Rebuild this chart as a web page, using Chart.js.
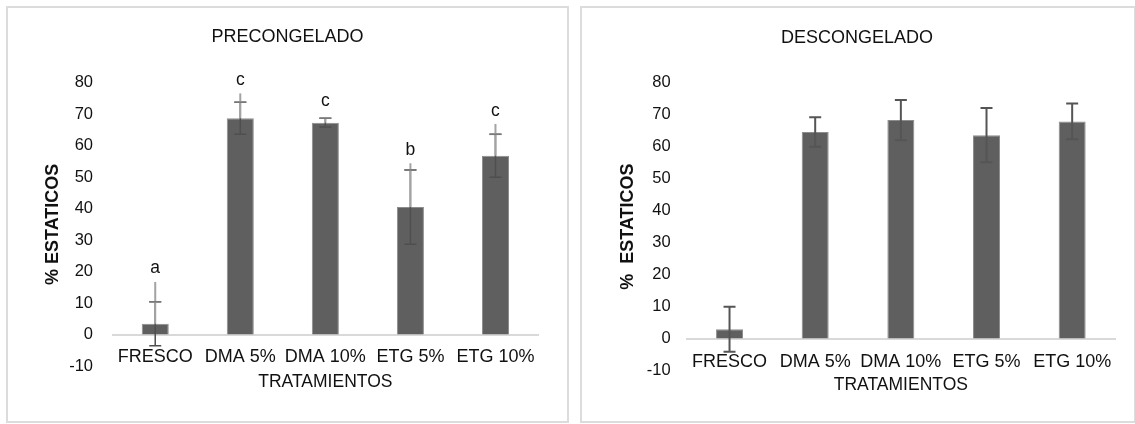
<!DOCTYPE html>
<html>
<head>
<meta charset="utf-8">
<script src="https://cdn.jsdelivr.net/npm/chart.js@4/dist/chart.umd.min.js"></script>
<style>
  html, body { margin: 0; padding: 0; background: #fff; }
  body { position: relative; width: 1135px; height: 424px; overflow: hidden; }
  .panel { position: absolute; border: 2px solid #dcdcdc; box-sizing: border-box; }
  canvas { position: absolute; }
</style>
</head>
<body>
<div class="panel" style="left:6px;top:6px;width:563px;height:417px"></div>
<div class="panel" style="left:580px;top:6px;width:556px;height:417px"></div>
<canvas id="pre" width="561" height="414" style="left:7px;top:7px;width:561px;height:414px"></canvas>
<canvas id="post" width="550" height="414" style="left:582px;top:7px;width:550px;height:414px"></canvas>
<script>
// Treatments on the x axis
const categories = ['FRESCO', 'DMA 5%', 'DMA 10%', 'ETG 5%', 'ETG 10%'];
const yTicks = [-10, 0, 10, 20, 30, 40, 50, 60, 70, 80];

// PRECONGELADO: mean % static, standard deviation, upper whisker, significance letters
const preMeans   = [3.4, 68.7, 67.3, 40.5, 56.8];
const preSD      = [7.0, 5.1, 1.4, 11.8, 6.8];
const preUpper   = [16.7, 76.6, 68.7, 54.4, 66.9];
const preLetters = ['a', 'c', 'c', 'b', 'c'];
const preLetterAt = [19.5, 79.4, 72.5, 57.1, 69.4];

// DESCONGELADO: mean % static and standard deviation
const postMeans = [2.9, 64.6, 68.3, 63.6, 67.9];
const postSD    = [7.0, 4.6, 6.3, 8.5, 5.6];

const FONT = '"Liberation Sans", Arial, sans-serif';
const INK = '#111111';

// Error bars and letters drawn over the bars through the chart's own scales
const errorBars = {
  id: 'errorBars',
  afterDatasetsDraw(chart, args, o) {
    const ctx = chart.ctx;
    const y = chart.scales.y;
    const meta = chart.getDatasetMeta(0);
    ctx.save();
    meta.data.forEach((bar, i) => {
      const x = bar.x;
      const m = o.means[i], s = o.sd[i];
      const hi = y.getPixelForValue(m + s);
      const lo = y.getPixelForValue(m - s);
      const cw = 6;
      ctx.strokeStyle = o.dark;
      ctx.lineWidth = o.darkWidth;
      ctx.beginPath();
      ctx.moveTo(x, lo); ctx.lineTo(x, hi);
      ctx.moveTo(x - cw, hi); ctx.lineTo(x + cw, hi);
      ctx.moveTo(x - cw, lo); ctx.lineTo(x + cw, lo);
      ctx.stroke();
      if (o.upper) {
        ctx.strokeStyle = o.light;
        ctx.lineWidth = 2;
        ctx.beginPath();
        ctx.moveTo(x, y.getPixelForValue(m));
        ctx.lineTo(x, y.getPixelForValue(o.upper[i]));
        ctx.stroke();
        // horizontal stroke of the "+" stays visible over the light line
        ctx.strokeStyle = o.capColor;
        ctx.lineWidth = 1.5;
        ctx.beginPath();
        ctx.moveTo(x - cw, hi); ctx.lineTo(x + cw, hi);
        ctx.stroke();
      }
      if (o.letters) {
        ctx.fillStyle = INK;
        ctx.font = '17.5px ' + FONT;
        ctx.textAlign = 'center';
        ctx.textBaseline = 'alphabetic';
        ctx.fillText(o.letters[i], x, y.getPixelForValue(o.letterAt[i]));
      }
    });
    ctx.restore();
  }
};

function makeChart(id, g) {
  return new Chart(document.getElementById(id), {
    type: 'bar',
    data: {
      labels: categories,
      datasets: [{
        data: g.means,
        backgroundColor: '#5f5f5f',
        borderColor: '#8c8c8c',
        borderWidth: 1,
        barPercentage: g.barPct,
        categoryPercentage: 1
      }]
    },
    options: {
      responsive: false,
      animation: false,
      devicePixelRatio: 1,
      layout: { padding: { left: 0, right: 0, top: 0, bottom: g.padBottom } },
      plugins: {
        legend: { display: false },
        tooltip: { enabled: false },
        title: {
          display: true,
          text: g.title,
          color: INK,
          font: { family: FONT, size: 18, weight: 'normal', lineHeight: 1.2 },
          padding: { top: g.titleTop, bottom: g.titleBottom }
        },
        errorBars: g.err
      },
      scales: {
        x: {
          type: 'category',
          position: { y: 0 },
          grid: { display: false, drawTicks: false },
          border: { display: true, color: '#d9d9d9', width: 2 },
          ticks: { color: INK, font: { family: FONT, size: 18 }, padding: g.xTickPad, maxRotation: 0, autoSkip: false },
          title: {
            display: true, text: 'TRATAMIENTOS', color: INK,
            font: { family: FONT, size: 17.5, lineHeight: 1.2 },
            padding: { top: 0, bottom: 0 }
          },
          afterFit: s => { s.height = g.xTitleOff + 10.5; }
        },
        y: {
          position: 'left',
          min: -10, max: 80,
          afterBuildTicks: s => { s.ticks = yTicks.map(v => ({ value: v })); },
          grid: { display: false, drawTicks: false },
          border: { display: false },
          ticks: { color: INK, font: { family: FONT, size: 16.5 }, padding: g.yTickPad },
          title: {
            display: true, text: g.yTitle, color: INK,
            font: { family: FONT, size: 18, weight: 'bold', lineHeight: 1.2 },
            padding: { top: g.yTitleX - 10.8, bottom: 0 }
          },
          afterFit: s => { s.width = g.areaLeft; }
        },
        pad: {
          position: 'right',
          grid: { display: false, drawTicks: false },
          border: { display: false },
          ticks: { display: false },
          afterFit: s => { s.width = g.padRight; }
        }
      }
    },
    plugins: [errorBars]
  });
}

makeChart('pre', {
  title: 'PRECONGELADO', yTitle: '% ESTATICOS', means: preMeans,
  barPct: 0.318, padBottom: 55, titleTop: 19.5, titleBottom: 34.6,
  xTickPad: 12.2, xTitleOff: 48, yTickPad: 19.7, yTitleX: 45.7,
  areaLeft: 105.7, padRight: 30,
  err: { means: preMeans, sd: preSD, upper: preUpper, letters: preLetters, letterAt: preLetterAt,
         dark: '#4f4f4f', darkWidth: 1.5, light: '#a3a3a3', capColor: '#7a7a7a' }
});

makeChart('post', {
  title: 'DESCONGELADO', yTitle: '%  ESTATICOS', means: postMeans,
  barPct: 0.315, padBottom: 50.5, titleTop: 19.9, titleBottom: 34.2,
  xTickPad: 12.5, xTitleOff: 46.7, yTickPad: 16, yTitleX: 46.3,
  areaLeft: 104.7, padRight: 17,
  err: { means: postMeans, sd: postSD, dark: '#555555', darkWidth: 2 }
});
</script>
</body>
</html>
